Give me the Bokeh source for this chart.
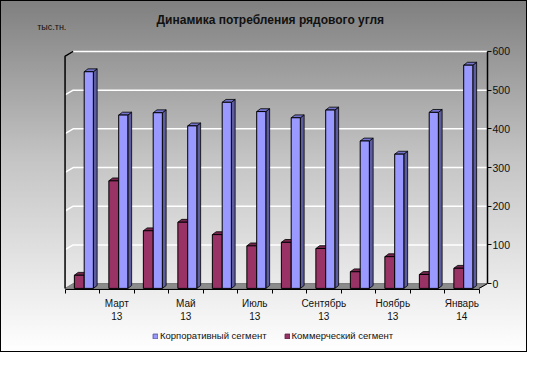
from bokeh.plotting import figure
from bokeh.layouts import column
from bokeh.models import Range1d, FixedTicker, Legend, LegendItem, Label
from bokeh.embed import file_html
from bokeh.resources import INLINE

# ---- data ----
months = ["Февраль\n13", "Март\n13", "Апрель\n13", "Май\n13", "Июнь\n13", "Июль\n13",
          "Август\n13", "Сентябрь\n13", "Октябрь\n13", "Ноябрь\n13", "Декабрь\n13", "Январь\n14"]
corp = [560, 448, 454, 420, 481, 457, 441, 461, 381, 347, 455, 577]
comm = [34, 278, 149, 171, 139, 110, 119, 103, 43, 82, 36, 52]
y_ticks = [0, 100, 200, 300, 400, 500, 600]
series_names = ["Корпоративный сегмент", "Коммерческий сегмент"]
title_text = "Динамика потребления рядового угля"
unit_text = "тыс.тн."

corp_colors = ("#9999ff", "#7474cc", "#5c5c9e")   # front, top, side
comm_colors = ("#993366", "#74264d", "#5e1f3f")

# ---- 3D geometry (in data units) ----
n = len(months)
wall_dx = 0.235      # back wall shift right
floor_dy = 12.4      # front floor below back wall
bar_dx = 0.11        # bar depth (x)
bar_dy = 7.4         # bar depth (y)
x_end = n + wall_dx + 0.01

p = figure(width=527, height=325, output_backend="svg", toolbar_location=None,
           x_range=Range1d(-1.813, x_end), y_range=Range1d(-15.25, 726.5),
           min_border_left=2, min_border_right=40, min_border_top=2, min_border_bottom=36,
           y_axis_location="right")
p.background_fill_color = None
p.border_fill_color = None
p.outline_line_color = None
p.grid.visible = False

# floor
p.patch([0, n, n + wall_dx, wall_dx], [-floor_dy, -floor_dy, 0, 0],
        fill_color="#8c8c8c", line_color="#7a7a7a", line_width=1)

# grid lines on back wall + left wall
gx, gy = [], []
for t in y_ticks[1:]:
    gx.append([0, wall_dx, x_end])
    gy.append([t - floor_dy, t, t])
p.multi_line(gx, gy, line_color="white", line_width=1.5)

# left wall edge
top = y_ticks[-1]
p.line([0, 0, wall_dx], [-floor_dy, top - floor_dy, top], line_color="black", line_width=1.5)
# zero tick diagonal on the right
p.line([x_end, n], [0, -floor_dy], line_color="black", line_width=1)


def bar_parts(values, x0, x1):
    lefts = [i + x0 for i in range(n)]
    rights = [i + x1 for i in range(n)]
    bottoms = [-floor_dy] * n
    tops = [v - floor_dy for v in values]
    top_xs = [[l, r, r + bar_dx, l + bar_dx] for l, r in zip(lefts, rights)]
    top_ys = [[t, t, t + bar_dy, t + bar_dy] for t in tops]
    side_xs = [[r, r + bar_dx, r + bar_dx, r] for r in rights]
    side_ys = [[b, b + bar_dy, t + bar_dy, t] for b, t in zip(bottoms, tops)]
    return lefts, rights, bottoms, tops, top_xs, top_ys, side_xs, side_ys


def draw(values, x0, x1, colors):
    front, topc, side = colors
    l, r, b, t, txs, tys, sxs, sys_ = bar_parts(values, x0, x1)
    p.patches(sxs, sys_, fill_color=side, line_color="black", line_width=0.8)
    p.patches(txs, tys, fill_color=topc, line_color="black", line_width=0.8)
    return p.quad(left=l, right=r, bottom=b, top=t, fill_color=front,
                  line_color="black", line_width=1)


draw(comm, 0.27, 0.555, comm_colors)
draw(corp, 0.555, 0.82, corp_colors)

# x axis
xa = p.xaxis[0]
label_pos = [i + 0.5 for i in range(1, n, 2)]
xa.ticker = FixedTicker(ticks=label_pos, minor_ticks=list(range(n + 1)))
xa.major_label_overrides = {i + 0.5: months[i] for i in range(1, n, 2)}
xa.bounds = (0, n)
xa.major_tick_out = 0
xa.major_tick_in = 0
xa.minor_tick_out = 4
xa.minor_tick_in = 0
xa.minor_tick_line_color = "black"
xa.axis_line_color = "black"
xa.major_label_standoff = 4
xa.major_label_text_font = "Liberation Sans"
xa.major_label_text_font_size = "10px"
xa.major_label_text_color = "#111111"

# y axis (right)
ya = p.yaxis[0]
ya.ticker = FixedTicker(ticks=y_ticks, minor_ticks=[])
ya.bounds = (0, top)
ya.major_tick_out = 4
ya.major_tick_in = 0
ya.major_tick_line_color = "black"
ya.axis_line_color = "black"
ya.axis_line_width = 1.5
ya.major_label_standoff = 1
ya.major_label_text_font = "Liberation Sans"
ya.major_label_text_font_size = "10.5px"
ya.major_label_text_color = "#111111"

# title and units
p.add_layout(Label(x=5.95, y=682, text=title_text, text_align="center",
                   text_baseline="middle", text_font="Liberation Sans",
                   text_font_size="12px", text_font_style="bold", text_color="#111111"))
p.add_layout(Label(x=-0.385, y=662, text=unit_text, text_align="center",
                   text_baseline="middle", text_font="Liberation Sans",
                   text_font_size="9px", text_color="#111111"))

# ---- legend strip ----
lg = figure(width=527, height=27, output_backend="svg", toolbar_location=None,
            x_range=Range1d(0, 1), y_range=Range1d(0, 1), x_axis_type=None, y_axis_type=None,
            min_border=0)
lg.background_fill_color = None
lg.border_fill_color = None
lg.outline_line_color = None
lg.grid.visible = False
# legend swatches (kept outside the visible range of this strip)
lr1 = lg.quad(left=[5], right=[6], bottom=[5], top=[6],
              fill_color=corp_colors[0], line_color=corp_colors[2])
lr2 = lg.quad(left=[5], right=[6], bottom=[5], top=[6],
              fill_color=comm_colors[0], line_color=comm_colors[2])
legend = Legend(items=[LegendItem(label=series_names[0], renderers=[lr1]),
                       LegendItem(label=series_names[1], renderers=[lr2])],
                orientation="horizontal", location=(150, 11),
                glyph_width=6, glyph_height=6, label_standoff=2, spacing=17,
                padding=0, margin=0, border_line_color=None, background_fill_alpha=0,
                label_text_font="Liberation Sans", label_text_font_size="9.5px",
                label_height=9, label_text_color="#111111")
lg.add_layout(legend)

layout = column(p, lg, spacing=0,
                styles={"background": "linear-gradient(180deg, #7f7f7f 0%, #c4c4c4 45%, #ffffff 100%)",
                        "box-shadow": "inset 0 0 0 1px #000000"})

open("out.html", "w").write(file_html(layout, INLINE))
